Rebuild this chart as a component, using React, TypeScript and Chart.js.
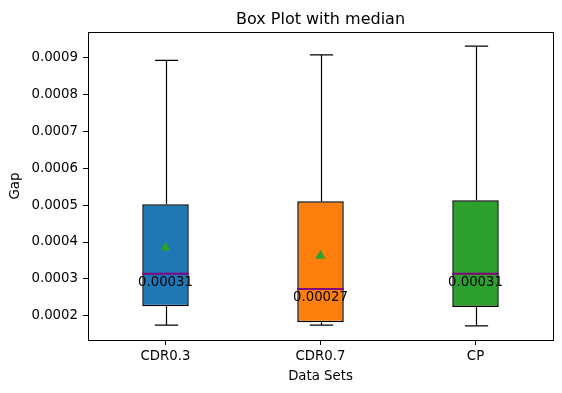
import React, { useEffect, useRef } from "react";
import { Chart, registerables } from "chart.js";

Chart.register(...registerables);

const categories = ["CDR0.3", "CDR0.7", "CP"];
const whiskerLow = [0.000175, 0.000175, 0.000173];
const q1 = [0.000226, 0.000183, 0.000224];
const medians = [0.000314, 0.000273, 0.000314];
const q3 = [0.000502, 0.00051, 0.000513];
const whiskerHigh = [0.000891, 0.000906, 0.00093];
const means = [0.000385, 0.000363, 0.00038];
const boxColors = ["#1f77b4", "#ff7f0e", "#2ca02c"];
const yTicks = [0.0002, 0.0003, 0.0004, 0.0005, 0.0006, 0.0007, 0.0008, 0.0009];

const FONT = "'DejaVu Sans', sans-serif";

const boxPlugin = {
  id: "boxExtras",
  beforeDatasetsDraw(chart: any) {
    const ctx = chart.ctx;
    const xs = chart.scales.x;
    const ys = chart.scales.y;
    const catW = xs.width / categories.length;
    const capHalf = catW * 0.075;
    ctx.save();
    ctx.strokeStyle = "#000";
    ctx.lineWidth = 1.2;
    categories.forEach((_, i) => {
      const x = Math.round(xs.getPixelForValue(i)) + 0.5;
      const yLo = ys.getPixelForValue(whiskerLow[i]);
      const yQ1 = ys.getPixelForValue(q1[i]);
      const yQ3 = ys.getPixelForValue(q3[i]);
      const yHi = ys.getPixelForValue(whiskerHigh[i]);
      ctx.beginPath();
      ctx.moveTo(x, yQ1);
      ctx.lineTo(x, yLo);
      ctx.moveTo(x, yQ3);
      ctx.lineTo(x, yHi);
      ctx.moveTo(x - capHalf, yLo);
      ctx.lineTo(x + capHalf, yLo);
      ctx.moveTo(x - capHalf, yHi);
      ctx.lineTo(x + capHalf, yHi);
      ctx.stroke();
    });
    ctx.restore();
  },
  afterDatasetsDraw(chart: any) {
    const ctx = chart.ctx;
    const xs = chart.scales.x;
    const ys = chart.scales.y;
    const catW = xs.width / categories.length;
    const boxHalf = catW * 0.15;
    ctx.save();
    categories.forEach((_, i) => {
      const x = xs.getPixelForValue(i);
      const ym = ys.getPixelForValue(medians[i]);
      ctx.strokeStyle = "#800080";
      ctx.lineWidth = 2;
      ctx.beginPath();
      ctx.moveTo(x - boxHalf, ym);
      ctx.lineTo(x + boxHalf, ym);
      ctx.stroke();
      ctx.fillStyle = "#000";
      ctx.font = `13.3px ${FONT}`;
      ctx.textAlign = "center";
      ctx.textBaseline = "alphabetic";
      ctx.fillText(medians[i].toFixed(5), x, ym + 12.5);
    });
    ctx.restore();
  },
  afterDraw(chart: any) {
    const ctx = chart.ctx;
    const a = chart.chartArea;
    ctx.save();
    ctx.strokeStyle = "#000";
    ctx.lineWidth = 1;
    ctx.strokeRect(Math.round(a.left) + 0.5, Math.round(a.top) + 0.5, Math.round(a.right - a.left), Math.round(a.bottom - a.top));
    ctx.fillStyle = "#000";
    ctx.font = `16px ${FONT}`;
    ctx.textAlign = "center";
    ctx.textBaseline = "alphabetic";
    ctx.fillText("Box Plot with median", (a.left + a.right) / 2, 24);
    ctx.restore();
  },
};

export default function App() {
  const ref = useRef<HTMLCanvasElement>(null);
  useEffect(() => {
    document.body.style.margin = "0";
    const chart = new Chart(ref.current as HTMLCanvasElement, {
      type: "bar",
      data: {
        labels: categories,
        datasets: [
          {
            type: "line",
            data: means,
            showLine: false,
            pointStyle: "triangle",
            pointRadius: 6,
            pointBackgroundColor: "#2ca02c",
            pointBorderColor: "#2ca02c",
            pointBorderWidth: 0,
            order: 0,
          } as any,
          {
            type: "bar",
            data: categories.map((_, i) => [q1[i], q3[i]]),
            backgroundColor: boxColors,
            borderColor: "#000",
            borderWidth: 1.5,
            borderSkipped: false,
            categoryPercentage: 1,
            barPercentage: 0.3,
            order: 1,
          } as any,
        ],
      },
      options: {
        animation: false,
        responsive: false,
        devicePixelRatio: 1,
        layout: { padding: { top: 32, right: 9, left: 0, bottom: 0 } },
        plugins: { legend: { display: false }, tooltip: { enabled: false }, title: { display: false } },
        scales: {
          x: {
            offset: true,
            grid: { display: true, drawOnChartArea: false, drawTicks: true, tickLength: 5, color: "#000", offset: false },
            border: { display: true, color: "#000" },
            ticks: { color: "#000", font: { family: FONT, size: 13.3 }, padding: 4 },
            title: { display: true, text: "Data Sets", color: "#000", font: { family: FONT, size: 13.3 }, padding: { top: 2, bottom: 8 } },
            afterFit: (s: any) => { s.height = 53; },
          },
          y: {
            min: 0.000135,
            max: 0.000968,
            afterBuildTicks: (s: any) => { s.ticks = yTicks.map((v) => ({ value: v })); },
            grid: { display: true, drawOnChartArea: false, drawTicks: true, tickLength: 5, color: "#000" },
            border: { display: true, color: "#000" },
            ticks: { color: "#000", font: { family: FONT, size: 13.3 }, padding: 5, callback: (v: any) => Number(v).toFixed(4) },
            title: { display: true, text: "Gap", color: "#000", font: { family: FONT, size: 13.3 }, padding: { top: 8, bottom: 4 } },
            afterFit: (s: any) => { s.width = 88; },
          },
        },
      },
      plugins: [boxPlugin],
    });
    return () => chart.destroy();
  }, []);
  return (
    <div style={{ width: 562, height: 393 }}>
      <canvas ref={ref} width={562} height={393} style={{ width: 562, height: 393, display: "block" }} />
    </div>
  );
}
